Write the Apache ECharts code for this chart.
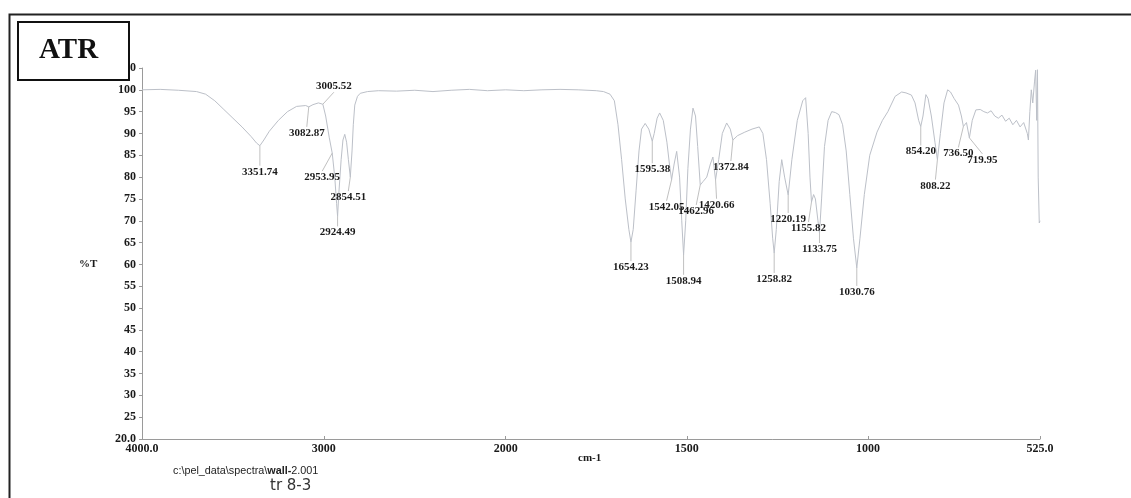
<!DOCTYPE html>
<html><head><meta charset="utf-8">
<script src="https://cdn.jsdelivr.net/npm/echarts@6/dist/echarts.min.js"></script>
<style>html,body{margin:0;padding:0;background:#fff}#c{width:1131px;height:498px}</style>
</head><body><div id="c"></div>
<script>
// Spectrum: wavenumber (cm-1) and %T
const wavenumbers = [4000,3900,3800,3700,3650,3600,3550,3500,3450,3400,3370,3351.74,3330,3300,3250,3200,3150,3100,3082.87,3060,3030,3005.52,2990,2970,2953.95,2940,2930,2924.49,2918,2905,2895,2885,2875,2865,2854.51,2845,2838,2830,2815,2800,2760,2700,2600,2500,2400,2300,2200,2100,2000,1950,1900,1850,1800,1750,1730,1712,1700,1690,1680,1670,1660,1654.23,1648,1640,1632,1625,1615,1605,1595.38,1590,1582,1575,1565,1555,1548,1542.05,1535,1528,1520,1514,1508.94,1503,1497,1490,1483,1476,1470,1462.96,1455,1445,1435,1428,1420.66,1412,1402,1390,1380,1372.84,1360,1340,1320,1300,1290,1280,1270,1263,1258.82,1253,1245,1238,1230,1220.19,1210,1195,1180,1172,1165,1160,1155.82,1150,1145,1138,1133.75,1128,1120,1110,1100,1090,1080,1070,1060,1050,1040,1030.76,1022,1010,995,975,960,945,925,907,895,880,870,860,854.20,848,840,834,825,815,808.22,800,790,780,772,762,750,742,736.50,728,719.95,712,702,690,680,670,660,650,640,630,620,610,600,590,580,570,560,557,553,549,545,540,537,534,532,530,527,525];
const transmittance = [100,100.1,99.9,99.6,99,97.5,95.5,93.5,91.5,89.3,87.8,87.2,88.5,90.5,93,95,96.2,96.4,96.1,96.6,97,96.7,94,89,85.5,80,74,71,76,84,88.5,89.8,88,84,80,86,92,96.5,98.5,99.2,99.6,99.8,99.7,99.9,99.6,99.9,100.1,99.8,100,99.8,100,100.1,100,99.8,99.6,99,97.5,92,84,75,68,65.1,68,77,86,91,92.3,91,88.2,90,93.5,94.7,93,88,83,79.4,83,85.9,80,70,62.2,70,82,91,95.8,94,87,78.2,79,80,83,84.6,79.4,84,90,92.4,91,88.5,89.5,90.3,91,91.5,90,84,74,66,62.6,68,79,84,80,75.9,84,93,97.5,98.2,90,80,74.3,76,75,70,67.2,75,87,93,95,94.8,94.3,92,86,76,66,59.2,66,76,85,90.3,93,95,98.5,99.5,99.3,98.8,97,93,91.6,94,98.9,98,94,88,84,90,97,100,99.5,98,96.5,94,91.6,92.5,89,93,95.4,95.5,95,94.7,95.2,94,93.5,94.2,92.8,93.5,92,93,91.5,92.5,90,88.5,95,100,97,102,104.5,93,104.6,80,69.5,70];

// Labelled peaks
const peakWavenumbers = [3351.74,3082.87,3005.52,2953.95,2924.49,2854.51,1654.23,1595.38,1542.05,1508.94,1462.96,1420.66,1372.84,1258.82,1220.19,1155.82,1133.75,1030.76,854.20,808.22,736.50,719.95];
const peakTransmittance = [87.2,96.1,96.7,85.5,71,80,65.1,88.2,79.4,62.2,78.2,79.4,88.5,62.6,75.9,74.3,67.2,59.2,91.6,84,91.6,89];

// Axis tick labels
const yTicks = [20,25,30,35,40,45,50,55,60,65,70,75,80,85,90,95,100,105];
const xTicksHigh = [4000,3000,2000];
const xTicksLow = [1500,1000,525];

// label offsets (pixels) from each peak tip – styling only
const labelOffsets = [[0,26],[-2,26],[11,-18],[-10,24],[0,16],[-2,20],[0,25],[0,28],[-5,27],[0,26],[-4,26],[1,25],[-2,27],[0,26],[0,24],[-3,26],[0,16],[0,24],[0,25],[-2,26],[-5,27],[13,22]];

const pts = wavenumbers.map((w,i)=>[w, transmittance[i]]);
const peaks = peakWavenumbers.map((w,i)=>[w, peakTransmittance[i], i]);

const fmtX = v => (v===4000||v===525) ? v.toFixed(1) : String(v);
const fmtY = v => (v===20||v===105) ? v.toFixed(1) : String(v);
const labelFont = {fontFamily:'Liberation Serif', fontWeight:'bold', fontSize:12, color:'#1a1a1a'};

function peakRender(params, api){
  const idx = api.value(2);
  const p = api.coord([api.value(0), api.value(1)]);
  const off = labelOffsets[idx];
  const lx = p[0]+off[0], ly = p[1]+off[1];
  const endY = off[1] > 0 ? ly-6 : ly+6;
  return {type:'group', children:[
    {type:'line', shape:{x1:p[0], y1:p[1], x2:lx, y2:endY}, style:{stroke:'#b0b0b0', lineWidth:0.8}},
    {type:'text', x:lx, y:ly, style:{text: peakWavenumbers[idx].toFixed(2), align:'center', verticalAlign:'middle',
      font:'bold 11px "Liberation Serif"', fill:'#1a1a1a'}}
  ]};
}

const axisLineStyle = {lineStyle:{color:'#9a9a9a', width:1}};
const chart = echarts.init(document.getElementById('c'), null, {renderer:'canvas'});
chart.setOption({
  animation:false,
  backgroundColor:'#ffffff',
  grid:[
    {left:142, right:1131-505.7, top:68, bottom:59},
    {left:505.7, right:91, top:68, bottom:59}
  ],
  xAxis:[
    {gridIndex:0, type:'value', min:2000, max:4000, inverse:true, interval:1000,
     axisLine:axisLineStyle, splitLine:{show:false},
     axisTick:{inside:true, length:3, lineStyle:{color:'#9a9a9a'}, customValues:xTicksHigh},
     axisLabel:Object.assign({margin:4, formatter:fmtX, customValues:xTicksHigh}, labelFont)},
    {gridIndex:1, type:'value', min:525, max:2000, inverse:true,
     axisLine:axisLineStyle, splitLine:{show:false},
     axisTick:{inside:true, length:3, lineStyle:{color:'#9a9a9a'}, customValues:xTicksLow},
     axisLabel:Object.assign({margin:4, formatter:fmtX, customValues:xTicksLow}, labelFont)}
  ],
  yAxis:[
    {gridIndex:0, type:'value', min:20, max:105, interval:5,
     axisLine:{show:true, lineStyle:{color:'#9a9a9a', width:1}}, splitLine:{show:false},
     axisTick:{show:true, length:3, lineStyle:{color:'#9a9a9a'}},
     axisLabel:Object.assign({margin:6, formatter:fmtY}, labelFont)},
    {gridIndex:1, type:'value', min:20, max:105, interval:5, show:false}
  ],
  series:[
    {type:'line', xAxisIndex:0, yAxisIndex:0, data:pts.filter(p=>p[0]>=2000), showSymbol:false, symbol:'none',
     lineStyle:{color:'#bcc0c8', width:1}, clip:false},
    {type:'line', xAxisIndex:1, yAxisIndex:1, data:pts.filter(p=>p[0]<=2000), showSymbol:false, symbol:'none',
     lineStyle:{color:'#bcc0c8', width:1}, clip:false},
    {type:'custom', xAxisIndex:0, yAxisIndex:0, data:peaks.filter(p=>p[0]>=2000), renderItem:peakRender, clip:false, z:5},
    {type:'custom', xAxisIndex:1, yAxisIndex:1, data:peaks.filter(p=>p[0]<2000), renderItem:peakRender, clip:false, z:5}
  ],
  graphic:[
    {type:'rect', left:7, top:12, shape:{width:1135, height:495}, style:{fill:'none', stroke:'#222', lineWidth:2}, z:1},
    {type:'rect', left:17, top:21, shape:{width:111, height:58}, style:{fill:'#fff', stroke:'#111', lineWidth:2}, z:100},
    {type:'text', left:39, top:36, style:{text:'ATR', font:'bold 29px "Liberation Serif"', fill:'#111'}, z:101},
    {type:'text', left:79, top:259, style:{text:'%T', font:'bold 11px "Liberation Serif"', fill:'#1a1a1a'}},
    {type:'text', left:578, top:453, style:{text:'cm-1', font:'bold 11px "Liberation Serif"', fill:'#1a1a1a'}},
    {type:'text', left:173, top:466, style:{text:'c:\\pel_data\\spectra\\{s|wall-}2.001', font:'10.8px "Liberation Sans"', fill:'#222',
      rich:{s:{fontFamily:'Liberation Sans', fontSize:10.8, fontWeight:'bold', color:'#111'}}}},
    {type:'text', left:270, top:479, style:{text:'tr 8-3', font:'15px "DejaVu Sans"', fill:'#333'}}
  ]
});
</script></body></html>
